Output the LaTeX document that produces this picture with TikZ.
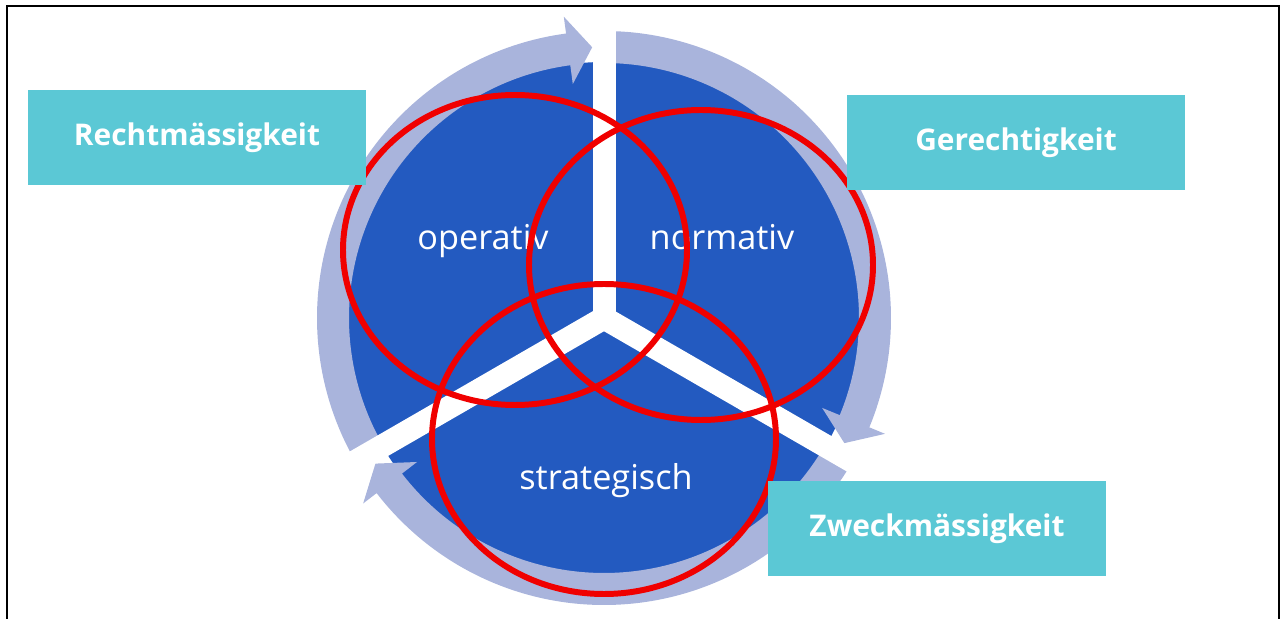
\documentclass[tikz,border=0pt]{standalone}
\usepackage{fontspec}
\setmainfont{Open Sans}
\usepackage{tikz}
\usepackage{xcolor}
\definecolor{kreisblau}{RGB}{35,90,192}
\definecolor{pfeilblau}{RGB}{169,180,220}
\definecolor{kastentuerkis}{RGB}{91,200,213}
\definecolor{ringrot}{RGB}{240,0,0}

\begin{document}
\begin{tikzpicture}[x=0.02cm, y=0.02cm,
                kasten/.style={fill=kastentuerkis, text=white, font=\fontsize{17}{20}\selectfont\bfseries, minimum width=6.76cm, minimum height=1.9cm, inner sep=0pt},
                ebene/.style={text=white, font=\fontsize{19.5}{23}\selectfont, anchor=base, inner sep=0pt},
                ring/.style={draw=ringrot, line width=3.4pt}]
                \useasboundingbox (0,0) rectangle (1282,619);
                \draw[line width=1.2pt] (7,0) -- (7,613) -- (1279,613) -- (1279,0);
                \coordinate (m) at (604,301);
                \fill[kreisblau] (m) circle [radius=256];
                \foreach \st/\bk/\tp in {210/97.6/92.5, 90/-22.4/-27.5, -30/-142.4/-147.5}
                    \fill[pfeilblau, shift={(m)}] (\st:287) arc [start angle=\st, end angle=\bk, radius=287] -- (\bk:304) -- (\tp:271) -- (\bk:236) -- (\bk:255) arc [start angle=\bk, end angle=\st, radius=255] -- cycle;
                \foreach \w in {90,210,330}
                    \draw[white, line width=0.46cm] (m) -- ++(\w:308);
                \node[ebene] (op) at (483,369) {operativ};
                \node[ebene] (nm) at (722,369) {normativ};
                \node[ebene] (sg) at (606,129) {strategisch};
                \draw[ring] (515,369) ellipse [x radius=172, y radius=155];
                \draw[ring] (701,354) ellipse [x radius=172, y radius=155];
                \draw[ring] (604,180) ellipse [x radius=172, y radius=155];
                \node[kasten] (rm) at (197,481.5) {Rechtmässigkeit};
                \node[kasten] (ge) at (1016,476.5) {Gerechtigkeit};
                \node[kasten] (zm) at (937,90.5) {Zweckmässigkeit};
\end{tikzpicture}
\end{document}
